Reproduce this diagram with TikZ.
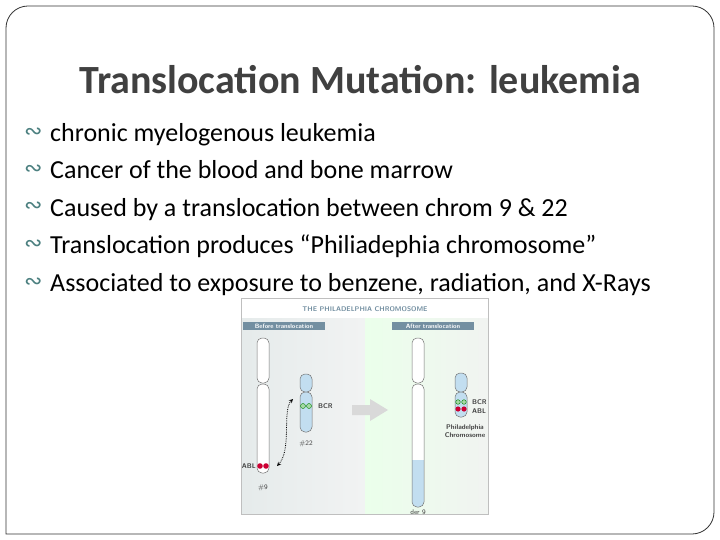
\documentclass[tikz,border=0pt]{standalone}
\usepackage{fontspec}
\setmainfont{Carlito}
\newfontfamily\dejavu{DejaVu Sans}
\definecolor{chb}{rgb}{0.76,0.87,0.94}
\definecolor{labc}{rgb}{0.45,0.56,0.63}
\begin{document}
\begin{tikzpicture}[x=1pt,y=-1pt,
  bul/.style={anchor=base west,font=\fontsize{26}{28}\selectfont,inner sep=0},
  tiny/.style={font=\sffamily\bfseries\fontsize{6.8}{7.5}\selectfont,text=black!75,inner sep=0},
  chromw/.style={draw=black!55,line width=0.5pt,fill=white},
  chromb/.style={draw=black!55,line width=0.5pt,fill=chb},
  lab/.style={fill=labc,text=white,font=\sffamily\bfseries\fontsize{6.3}{7}\selectfont,inner sep=1.5pt,minimum width=82pt}]
\useasboundingbox (0,0) rectangle (720,540);
\fill[white] (0,0) rectangle (720,540);
\draw[black!80,line width=0.8pt,rounded corners=22pt] (6,534) -- (6,6) -- (714,6) -- (714,534) [sharp corners]-- cycle;
\node[font=\bfseries\fontsize{40}{42}\selectfont,text=black!75] (title) at (360,80) {Translocation Mutation: leukemia};
\foreach \y/\t [count=\i] in {142/chronic myelogenous leukemia,179/Cancer of the blood and bone marrow,216/Caused by a translocation between chrom 9 \& 22,254/Translocation produces “Philiadephia chromosome”,291/{Associated to exposure to benzene, radiation, and X-Rays}}{
  \node[anchor=base west,inner sep=0,text=teal!40!gray,font=\dejavu\fontsize{22}{22}\selectfont] (b\i) at (24,\y-3) {∾};
  \node[bul] (t\i) at (50,\y) {\t};
}
% figure panels
\shade[left color=cyan!12!gray!18,right color=cyan!6!gray!10] (241,298) rectangle (365,514);
\shade[left color=green!8!white,right color=green!10!gray!10] (365,298) rectangle (488,514);
\fill[white] (241,298) rectangle (488,318);
\draw[black!25] (241,298) rectangle (488,514);
\node[tiny,text=labc] (hdr) at (365,309) {THE PHILADELPHIA CHROMOSOME};
\node[lab] (before) at (284,326) {Before translocation};
\node[lab] (after) at (433,326) {After translocation};
% chromosome 9
\draw[chromw,rounded corners=5pt] (257,338) rectangle (269,383);
\draw[chromw,rounded corners=5pt] (257,384) rectangle (269,473);
\fill[purple!80!red] (260,466) circle (2.8) (266,466) circle (2.8);
\node[tiny,anchor=east] (abl) at (256,466) {ABL};
\node[tiny,font=\sffamily\fontsize{6.8}{7.5}\selectfont] (n9) at (263,488) {\#9};
% chromosome 22
\draw[chromb,rounded corners=5pt] (300,374) rectangle (312,392);
\draw[chromb,rounded corners=5pt] (300,392) rectangle (312,432);
\draw[green!50!black,fill=green!40!gray!50] (303,406) circle (2.5) (309,406) circle (2.5);
\node[tiny,anchor=west] (bcr) at (318,406) {BCR};
\node[tiny,font=\sffamily\fontsize{6.8}{7.5}\selectfont] (n22) at (306,444) {\#22};
\coordinate (p1) at (277,466);
\coordinate (p2) at (293,399);
\draw[densely dotted,<->,>=stealth,thick] (p1) .. controls (292,450) and (282,410) .. (p2);
% big arrow
\fill[black!15] (352,405) -- (370,405) -- (370,399) -- (388,410) -- (370,421) -- (370,415) -- (352,415) -- cycle;
% der 9
\draw[chromw,rounded corners=5pt] (412,338) rectangle (424,383);
\begin{scope}
\clip[rounded corners=5pt] (412,384) rectangle (424,507);
\fill[white] (412,384) rectangle (424,460);
\fill[chb] (412,460) rectangle (424,507);
\end{scope}
\draw[black!55,line width=0.5pt,rounded corners=5pt] (412,384) rectangle (424,507);
\node[tiny,font=\sffamily\fontsize{6.8}{7.5}\selectfont] (der) at (418,512) {der 9};
% Philadelphia
\draw[chromb,rounded corners=5pt] (455,373) rectangle (467,392);
\draw[chromb,rounded corners=5pt] (455,392) rectangle (467,417);
\draw[green!50!black,fill=green!40!gray!50] (458,402) circle (2.3) (464,402) circle (2.3);
\fill[purple!80!red] (458,409) circle (2.6) (464,409) circle (2.6);
\node[tiny,anchor=west] (bcr2) at (472,402) {BCR};
\node[tiny,anchor=west] (abl2) at (472,411) {ABL};
\node[tiny,align=center] (ph) at (465,431) {Philadelphia\\[1pt]Chromosome};
\end{tikzpicture}
\end{document}
